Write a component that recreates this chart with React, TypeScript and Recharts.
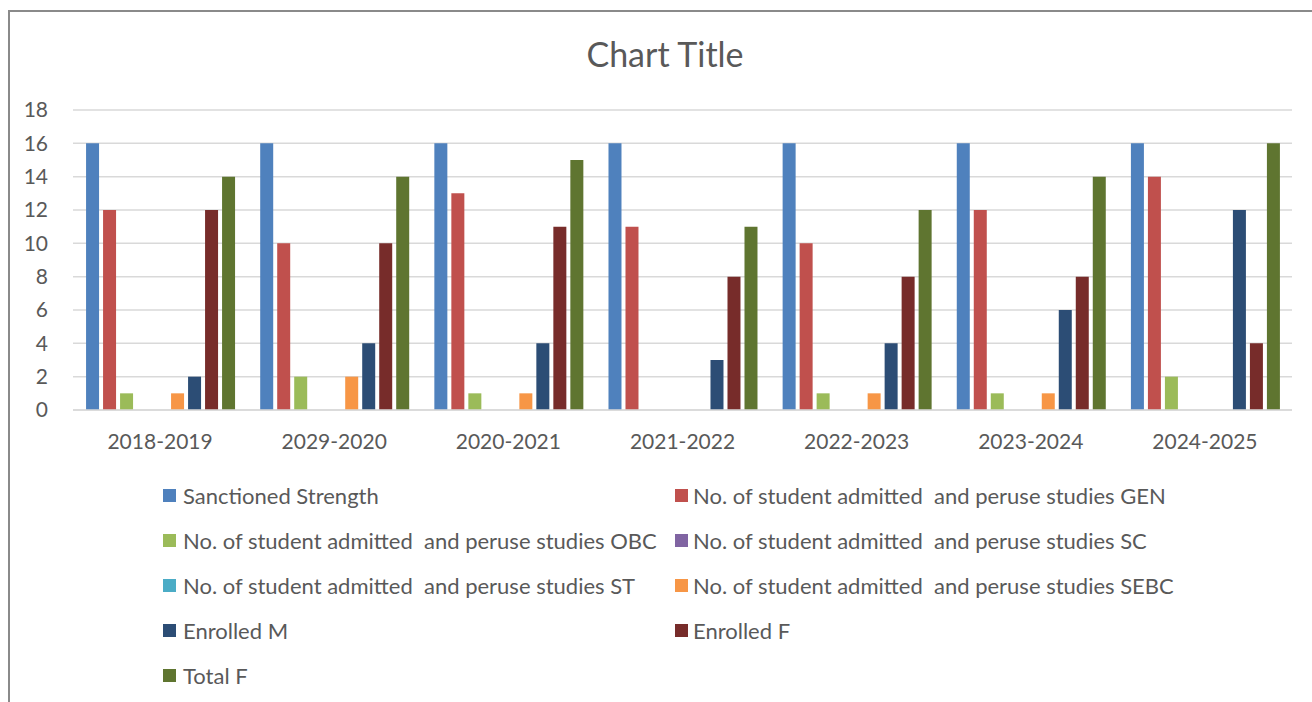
import React from "react";
import { BarChart, Bar, XAxis, YAxis, CartesianGrid } from "recharts";

const years = ["2018-2019", "2029-2020", "2020-2021", "2021-2022", "2022-2023", "2023-2024", "2024-2025"];

const sanctioned = [16, 16, 16, 16, 16, 16, 16];
const gen = [12, 10, 13, 11, 10, 12, 14];
const obc = [1, 2, 1, 0, 1, 1, 2];
const sc = [0, 0, 0, 0, 0, 0, 0];
const st = [0, 0, 0, 0, 0, 0, 0];
const sebc = [1, 2, 1, 0, 1, 1, 0];
const enrolledM = [2, 4, 4, 3, 4, 6, 12];
const enrolledF = [12, 10, 11, 8, 8, 8, 4];
const totalF = [14, 14, 15, 11, 12, 14, 16];

const yTicks = [0, 2, 4, 6, 8, 10, 12, 14, 16, 18];

const series = [
  { key: "s0", name: "Sanctioned Strength", values: sanctioned, color: "#4F81BD" },
  { key: "s1", name: "No. of student admitted  and peruse studies GEN", values: gen, color: "#C0504D" },
  { key: "s2", name: "No. of student admitted  and peruse studies OBC", values: obc, color: "#9BBB59" },
  { key: "s3", name: "No. of student admitted  and peruse studies SC", values: sc, color: "#8064A2" },
  { key: "s4", name: "No. of student admitted  and peruse studies ST", values: st, color: "#4BACC6" },
  { key: "s5", name: "No. of student admitted  and peruse studies SEBC", values: sebc, color: "#F79646" },
  { key: "s6", name: "Enrolled M", values: enrolledM, color: "#2C4D75" },
  { key: "s7", name: "Enrolled F", values: enrolledF, color: "#772C2A" },
  { key: "s8", name: "Total F", values: totalF, color: "#5F7530" },
];

const data = years.map((year, i) => {
  const row: Record<string, string | number> = { year };
  series.forEach((s) => {
    row[s.key] = s.values[i];
  });
  return row;
});

const font = "Lato, 'Open Sans', sans-serif";
const textColor = "#595959";

export default function App() {
  return (
    <div style={{ position: "absolute", left: 0, top: 0, width: 1312, height: 702, background: "#fff", overflow: "hidden", fontFamily: font }}>
      <div
        style={{
          position: "absolute",
          left: 8,
          top: 10,
          width: 1320,
          height: 720,
          borderLeft: "2px solid #8a8a8a",
          borderTop: "2px solid #8a8a8a",
        }}
      />
      <div
        style={{
          position: "absolute",
          left: 0,
          width: 1330,
          top: 33,
          textAlign: "center",
          fontSize: 34,
          color: textColor,
        }}
      >
        Chart Title
      </div>
      <div style={{ position: "absolute", left: 0, top: 0 }}>
        <BarChart
          width={1312}
          height={460}
          data={data}
          margin={{ top: 110, right: 20, left: 23, bottom: 20 }}
          barCategoryGap="7.5%"
          barGap={4}
        >
          <CartesianGrid vertical={false} stroke="#d9d9d9" strokeWidth={1.5} />
          <XAxis
            dataKey="year"
            height={30}
            tickLine={false}
            axisLine={{ stroke: "#d9d9d9", strokeWidth: 1.5 }}
            tick={{ fill: textColor, fontSize: 21, fontFamily: font }}
            tickMargin={18}
          />
          <YAxis
            width={50}
            domain={[0, 18]}
            ticks={yTicks}
            interval={0}
            tickLine={false}
            axisLine={false}
            tick={{ fill: textColor, fontSize: 21, fontFamily: font }}
            tickMargin={19}
          />
          {series.map((s) => (
            <Bar key={s.key} dataKey={s.key} name={s.name} fill={s.color} isAnimationActive={false} />
          ))}
        </BarChart>
      </div>
      {series.map((s, i) => {
        const col = i % 2;
        const row = Math.floor(i / 2);
        return (
          <div
            key={s.key}
            style={{
              position: "absolute",
              left: col === 0 ? 163 : 675,
              top: 495 + row * 45 - 14,
              height: 28,
              display: "flex",
              alignItems: "center",
              whiteSpace: "pre",
              fontSize: 22,
              color: textColor,
            }}
          >
            <span style={{ display: "inline-block", width: 13, height: 13, background: s.color, marginRight: col === 0 ? 7 : 5 }} />
            {s.name}
          </div>
        );
      })}
    </div>
  );
}
